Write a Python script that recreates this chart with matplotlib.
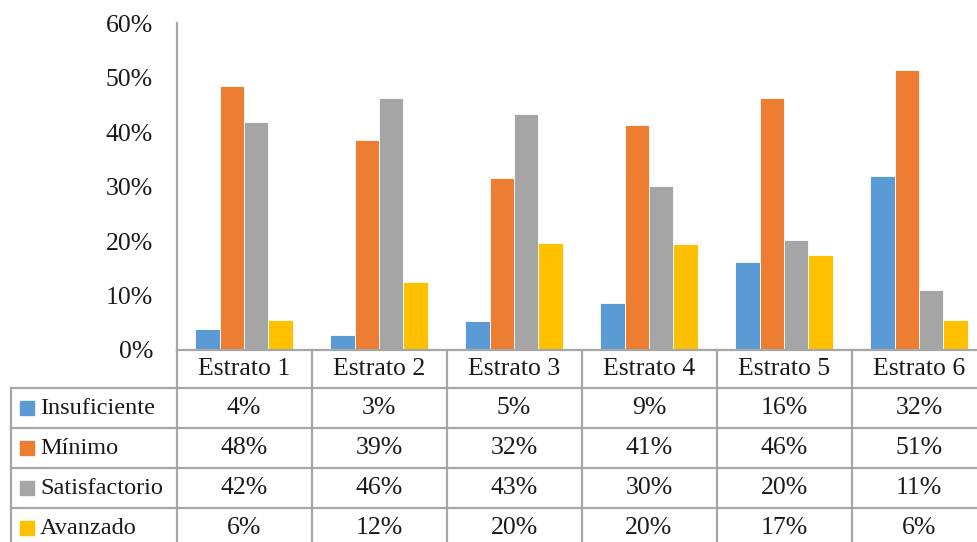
import matplotlib
matplotlib.use("Agg")
import matplotlib.pyplot as plt
from matplotlib.lines import Line2D
from matplotlib.patches import Rectangle

plt.rcParams['font.family'] = ['Liberation Serif', 'DejaVu Serif']

categories = ["Estrato 1", "Estrato 2", "Estrato 3", "Estrato 4", "Estrato 5", "Estrato 6"]
series_names = ["Insuficiente", "Mínimo", "Satisfactorio", "Avanzado"]
insuficiente = [3.9, 2.7, 5.3, 8.7, 16.1, 31.9]
minimo = [48.5, 38.5, 31.5, 41.4, 46.3, 51.4]
satisfactorio = [41.9, 46.2, 43.4, 30.2, 20.2, 11.0]
avanzado = [5.6, 12.4, 19.6, 19.5, 17.4, 5.5]
table_insuficiente = ["4%", "3%", "5%", "9%", "16%", "32%"]
table_minimo = ["48%", "39%", "32%", "41%", "46%", "51%"]
table_satisfactorio = ["42%", "46%", "43%", "30%", "20%", "11%"]
table_avanzado = ["6%", "12%", "20%", "20%", "17%", "6%"]
yticks = [0, 10, 20, 30, 40, 50, 60]
ytick_labels = ["0%", "10%", "20%", "30%", "40%", "50%", "60%"]

colors = ["#5B9BD5", "#ED7D31", "#A5A5A5", "#FFC000"]
grid_color = "#A6A6A6"
text_color = "#1A1A1A"
fs = 18.5
values = [insuficiente, minimo, satisfactorio, avanzado]
table_rows = [table_insuficiente, table_minimo, table_satisfactorio, table_avanzado]

W, H = 977, 542
fig = plt.figure(figsize=(W / 100, H / 100), dpi=100)

# layout in pixels
x0 = 176.5
cw = 135.0
y_zero = 350.0
y_top = 23.3
n = len(categories)

ax = fig.add_axes([x0 / W, (H - y_zero) / H, n * cw / W, (y_zero - y_top) / H])
bw = 0.18
for k, (vals, col) in enumerate(zip(values, colors)):
    xs = [i + (k - 1.5) * bw for i in range(n)]
    ax.bar(xs, vals, width=bw, color=col, edgecolor="white", linewidth=0.6, zorder=2)
ax.set_xlim(-0.5, n - 0.5)
ax.set_ylim(0, 60)
ax.set_yticks(yticks)
ax.set_yticklabels(ytick_labels, fontsize=fs, color=text_color)
ax.tick_params(axis="y", length=0, pad=17)
ax.set_xticks([])
for s in ["top", "right"]:
    ax.spines[s].set_visible(False)
for s in ["left", "bottom"]:
    ax.spines[s].set_color(grid_color)
    ax.spines[s].set_linewidth(1.6)

# table overlay in pixel coordinates
tax = fig.add_axes([0, 0, 1, 1])
tax.set_xlim(0, W)
tax.set_ylim(H, 0)
tax.axis("off")

header_bottom = 388.3
row_h = 40.0
table_left = 11.0
right = x0 + n * cw
n_rows = len(series_names)
bottom = header_bottom + n_rows * row_h

lw = 1.6
for i in range(n + 1):
    xv = x0 + i * cw
    tax.add_line(Line2D([xv, xv], [y_zero, bottom], color=grid_color, lw=lw))
tax.add_line(Line2D([table_left, table_left], [header_bottom, bottom], color=grid_color, lw=lw))
for r in range(n_rows + 1):
    yh = header_bottom + r * row_h
    tax.add_line(Line2D([table_left, right], [yh, yh], color=grid_color, lw=lw))

for i, c in enumerate(categories):
    tax.text(x0 + (i + 0.5) * cw, (y_zero + header_bottom) / 2, c, ha="center", va="center",
             fontsize=fs, color=text_color)

for r, (name, col, row) in enumerate(zip(series_names, colors, table_rows)):
    yc = header_bottom + (r + 0.5) * row_h
    tax.add_patch(Rectangle((20, yc - 7), 14, 14, color=col))
    tax.text(40, yc, name, ha="left", va="center", fontsize=17.5, color=text_color)
    for i, v in enumerate(row):
        tax.text(x0 + (i + 0.5) * cw, yc, v, ha="center", va="center", fontsize=fs, color=text_color)

fig.savefig("out.png", dpi=100)
